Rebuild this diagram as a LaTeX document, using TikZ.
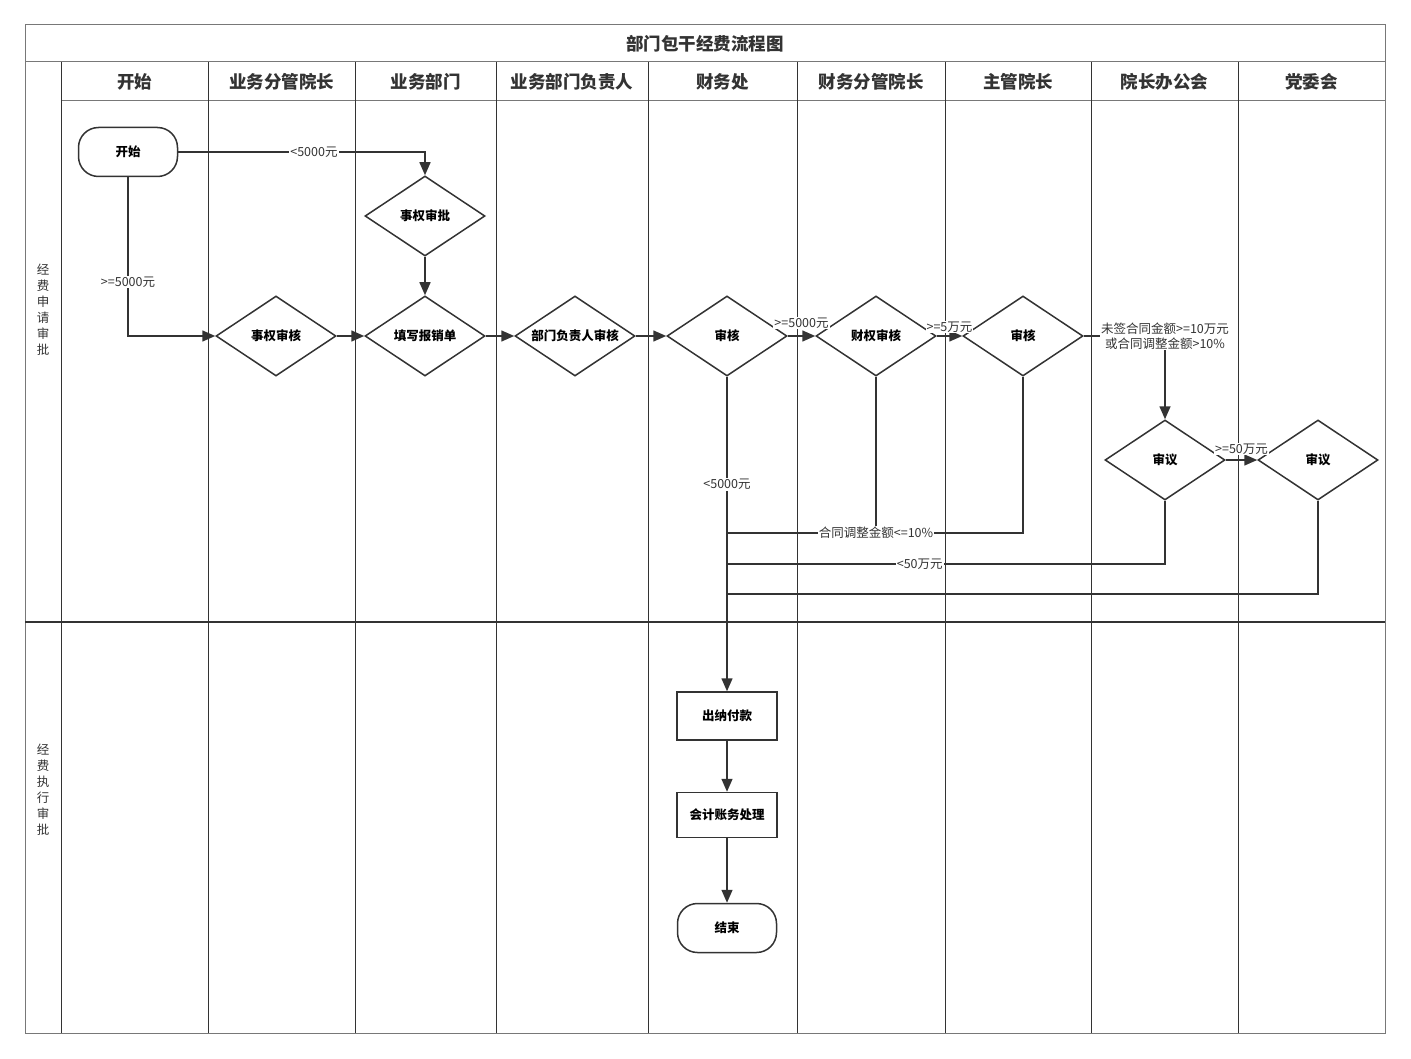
\documentclass[tikz,border=0pt]{standalone}
\usepackage{fontspec}
\setmainfont{Noto Sans CJK SC}
\usepackage{tikz}
\usetikzlibrary{shapes.geometric, arrows.meta, positioning, calc}
\definecolor{lanegray}{RGB}{120,120,120}
\definecolor{flowdark}{RGB}{51,51,51}

\begin{document}
\begin{tikzpicture}[x=1pt,y=-1pt,
    lane/.style={draw=flowdark,line width=0.8pt},
    decision/.style={diamond,draw=flowdark,line width=1.5pt,aspect=1.5,inner sep=0pt,minimum width=120pt,minimum height=80pt,font=\fontsize{12.5}{14}\selectfont\bfseries},
    process/.style={rectangle,draw=flowdark,line width=1.5pt,minimum width=100pt,minimum height=48pt,font=\fontsize{12.5}{14}\selectfont\bfseries},
    terminal/.style={rectangle,rounded corners=20pt,draw=flowdark,line width=1.5pt,minimum width=99pt,minimum height=49pt,font=\fontsize{12.5}{14}\selectfont\bfseries},
    flow/.style={draw=flowdark,line width=1.5pt,-{Triangle[length=13pt,width=11pt]}},
    mergeline/.style={draw=flowdark,line width=1.5pt},
    lbl/.style={fill=white,inner sep=1pt,font=\fontsize{12.5}{15}\selectfont,text=flowdark}]
    \useasboundingbox (0,0) rectangle (1411,1059);

    % Cornice e intestazioni
    \draw[lanegray,line width=1pt] (25,25) rectangle (1385,1033);
    \draw[lanegray,line width=1pt] (25,62) -- (1385,62);
    \draw[lanegray,line width=1pt] (61,101) -- (1385,101);
    \draw[flowdark,line width=1.2pt] (25,622) -- (1385,622);
    \foreach \x in {61,208,355,496,648,797,945,1091,1238}
        \draw[lane] (\x,62) -- (\x,1033);
    \node[font=\fontsize{17.5}{20}\selectfont\bfseries,text=flowdark] (title) at (705,44) {部门包干经费流程图};
    \foreach \x/\name in {134.5/开始,281.5/业务分管院长,425.5/业务部门,572/业务部门负责人,722.5/财务处,871/财务分管院长,1018/主管院长,1164.5/院长办公会,1311.5/党委会}
        \node[font=\fontsize{17.5}{20}\selectfont\bfseries,text=flowdark] at (\x,82) {\name};
    \node[align=center,font=\fontsize{12.5}{16}\selectfont,text=flowdark] (phaseA) at (43,310) {经\\费\\申\\请\\审\\批};
    \node[align=center,font=\fontsize{12.5}{16}\selectfont,text=flowdark] (phaseB) at (43,790) {经\\费\\执\\行\\审\\批};

    % Nodi
    \node[terminal] (start) at (128,152) {开始};
    \node[decision] (sqsp) at (425,216) {事权审批};
    \node[decision] (sqsh) at (276,336) {事权审核};
    \node[decision] (txbx) at (425,336) {填写报销单};
    \node[decision] (bmsh) at (575,336) {部门负责人审核};
    \node[decision] (cwsh) at (727,336) {审核};
    \node[decision] (cqsh) at (876,336) {财权审核};
    \node[decision] (zgsh) at (1023,336) {审核};
    \node[decision] (yzsy) at (1165,460) {审议};
    \node[decision] (dwsy) at (1318,460) {审议};
    \node[process] (cnfk) at (727,716) {出纳付款};
    \node[process,minimum height=45pt] (kjcl) at (727,815) {会计账务处理};
    \node[terminal] (stop) at (727,928) {结束};
    \coordinate (j1) at (727,533);
    \coordinate (j2) at (727,564);
    \coordinate (j3) at (727,594);

    % Collegamenti
    \draw[flow] (start.east) -| node[lbl,pos=0.275] {<5000元} (sqsp.north);
    \draw[flow] (start.south) |- node[lbl,pos=0.33] {>=5000元} (sqsh.west);
    \draw[flow] (sqsp) -- (txbx);
    \draw[flow] (sqsh) -- (txbx);
    \draw[flow] (txbx) -- (bmsh);
    \draw[flow] (bmsh) -- (cwsh);
    \draw[flow] (cwsh) -- node[lbl,above=6pt] {>=5000元} (cqsh);
    \draw[flow] (cqsh) -- node[lbl,above=2pt] {>=5万元} (zgsh);
    \draw[flow] (zgsh.east) -| node[lbl,align=center] {未签合同金额>=10万元\\或合同调整金额>10\%} (yzsy.north);
    \draw[flow] (yzsy) -- node[lbl,above=4pt] {>=50万元} (dwsy);
    \draw[mergeline] (zgsh.south) |- (j1);
    \draw[mergeline] (cqsh.south) |- node[lbl] {合同调整金额<=10\%} (j1);
    \draw[mergeline] (yzsy.south) |- node[lbl,pos=0.78] {<50万元} (j2);
    \draw[mergeline] (dwsy.south) |- (j3);
    \draw[flow] (cwsh.south) -- node[lbl,pos=0.343] {<5000元} (cnfk.north);
    \draw[flow] (cnfk) -- (kjcl);
    \draw[flow] (kjcl) -- (stop);
\end{tikzpicture}
\end{document}
